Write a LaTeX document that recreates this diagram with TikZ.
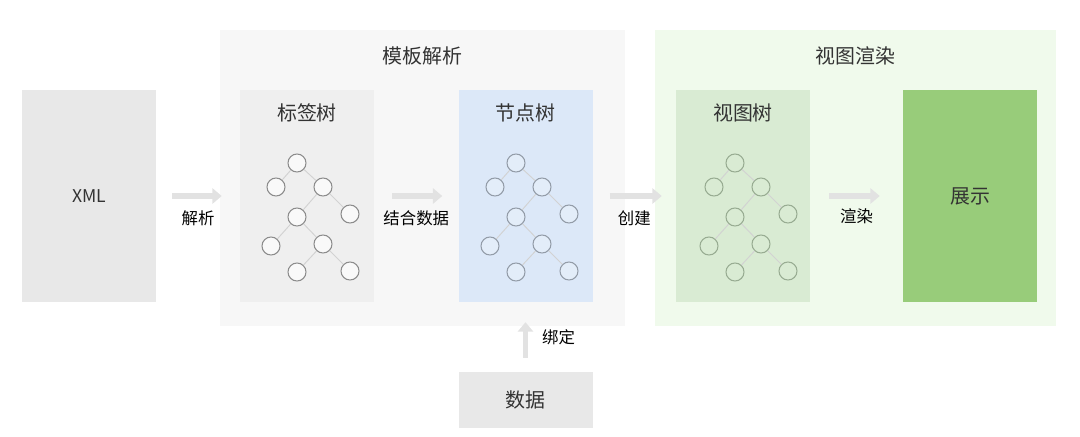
\documentclass[tikz,border=0pt]{standalone}
\usepackage{fontspec}
\setmainfont{Noto Sans CJK SC}
\usepackage{tikz}
\usetikzlibrary{arrows.meta,positioning}

\definecolor{txtc}{HTML}{333333}
\definecolor{xmlfill}{HTML}{E8E8E8}
\definecolor{tmplfill}{HTML}{F7F7F7}
\definecolor{tagfill}{HTML}{EFEFEF}
\definecolor{nodefill}{HTML}{DCE8F8}
\definecolor{viewpanel}{HTML}{F0FAEC}
\definecolor{viewfill}{HTML}{D9EBD3}
\definecolor{showfill}{HTML}{98CC7A}
\definecolor{arrowc}{HTML}{E2E2E2}
\definecolor{edgec}{HTML}{D2D2D2}
\definecolor{nodeline}{HTML}{939CA8}
\definecolor{viewline}{HTML}{98AC92}

\begin{document}
\begin{tikzpicture}[
		x=0.03cm, y=-0.03cm,
		every node/.style={font=\fontsize{14}{16}\selectfont, text=txtc},
		box/.style={draw=none, minimum width=4.02cm, minimum height=6.36cm, inner sep=0},
		panel/.style={draw=none, minimum width=12.15cm, minimum height=8.88cm, inner sep=0},
		ttl/.style={inner sep=0, font=\fontsize{17}{19}\selectfont},
		lbl/.style={inner sep=0, text=black},
		flow/.style={draw=arrowc, line width=4.5pt, -{Triangle[width=13pt, length=8pt]}},
		edge/.style={draw=edgec, line width=0.8pt},
		tagc/.style={circle, draw=black!45, fill=white!60!tagfill, line width=0.9pt, minimum size=0.54cm, inner sep=0},
		nodec/.style={tagc, draw=nodeline, fill=nodefill!80!white},
		viewc/.style={tagc, draw=viewline, fill=viewfill}
		]
		\useasboundingbox (0,0) rectangle (1080,436);
		
		% panels
		\node[panel, fill=tmplfill] (tmpl) at (422.5,178) {};
		\node[panel, fill=viewpanel, minimum width=12.03cm] (render) at (855.5,178) {};
		\node[ttl, below=0.51cm of tmpl.north] (tmpltitle) {模板解析};
		\node[ttl, below=0.51cm of render.north] (rendertitle) {视图渲染};
		
		% boxes
		\node[box, fill=xmlfill, font=\fontsize{15}{17}\selectfont] (xml) at (89,196) {XML};
		\node[box, fill=tagfill] (tagtree) at (307,196) {};
		\node[box, fill=nodefill] (nodetree) at (525.5,196) {};
		\node[box, fill=viewfill] (viewtree) at (743,196) {};
		\node[box, fill=showfill, font=\fontsize{17}{19}\selectfont] (show) at (970,196) {展示};
		\node[box, fill=xmlfill, minimum height=1.68cm, font=\fontsize{17}{19}\selectfont] (data) at (525.5,400) {数据};
		
		\node[ttl, below=0.42cm of tagtree.north] (tagtitle) {标签树};
		\node[ttl, below=0.42cm of nodetree.north] (nodetitle) {节点树};
		\node[ttl, below=0.42cm of viewtree.north] (viewtitle) {视图树};
		
		% trees
		\foreach \tr/\ox/\cs in {a/297/tagc, b/516/nodec, c/735/viewc} {
			\foreach \k/\dx/\dy in {1/0/0, 2/-21/24, 3/26/24, 4/0/54, 5/53/51, 6/-26/83, 7/26/81, 8/0/109, 9/53/108}
				\node[\cs] (\tr\k) at (\ox+\dx,163+\dy) {};
			\foreach \p/\q in {1/2, 1/3, 3/4, 3/5, 4/6, 4/7, 7/8, 7/9}
				\draw[edge] (\tr\p) -- (\tr\q);
		}
		
		% arrows
		\draw[flow, shorten <=0.48cm, shorten >=0.54cm] (xml) -- node[lbl, below=0.36cm] (lparse) {解析} (tagtree);
		\draw[flow, shorten <=0.54cm, shorten >=0.48cm] (tagtree) -- node[lbl, below=0.36cm] (lmerge) {结合数据} (nodetree);
		\draw[flow, shorten <=0.51cm, shorten >=0.42cm] (nodetree) -- node[lbl, below=0.36cm] (lcreate) {创建} (viewtree);
		\draw[flow, shorten <=0.57cm, shorten >=0.69cm] (viewtree) -- node[lbl, below=0.3cm] (lrender) {渲染} (show);
		\draw[flow, shorten <=0.42cm, shorten >=0.6cm] (data) -- node[lbl, right=0.42cm] (lbind) {绑定} (nodetree);
		
	\end{tikzpicture}
\end{document}
